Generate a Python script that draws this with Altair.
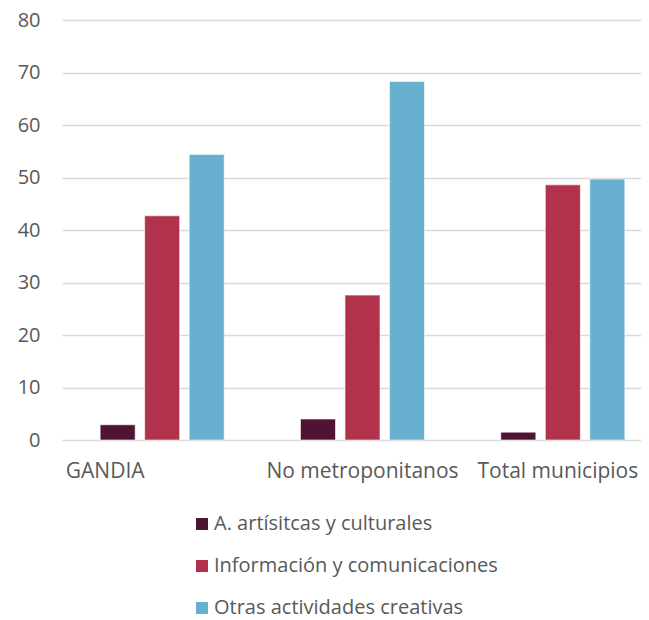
import altair as alt
import pandas as pd

categories = ["GANDIA", "No metroponitanos", "Total municipios"]
series = ["A. artísitcas y culturales", "Información y comunicaciones", "Otras actividades creativas"]
values_artisticas = [2.9, 4.0, 1.5]
values_informacion = [42.7, 27.6, 48.6]
values_otras = [54.4, 68.3, 49.7]
colors = ["#4f1434", "#b2314b", "#67b0cf"]
y_ticks = [0, 10, 20, 30, 40, 50, 60, 70, 80]

rows = []
for vals, s in zip([values_artisticas, values_informacion, values_otras], series):
    for c, v in zip(categories, vals):
        rows.append({"categoria": c, "serie": s, "valor": v})
df = pd.DataFrame(rows)

FONT = "Open Sans"
TXT = "#595959"

chart = alt.Chart(df).mark_bar(stroke="white", strokeWidth=0.6).encode(
    x=alt.X("categoria:N", sort=categories, title=None,
            scale=alt.Scale(paddingInner=0, paddingOuter=0),
            axis=alt.Axis(labelAngle=0, domain=False, ticks=False, grid=False,
                          labelFont=FONT, labelFontSize=21, labelColor=TXT,
                          labelPadding=20, labelLimit=400,
                          labelOffset={"expr": "datum.value === 'GANDIA' ? -57 : (datum.value === 'Total municipios' ? -5 : 0)"})),
    xOffset=alt.XOffset("serie:N", sort=series,
                        scale=alt.Scale(paddingInner=0.213, paddingOuter=0.857)),
    y=alt.Y("valor:Q", title=None,
            scale=alt.Scale(domain=[0, 80], nice=False),
            axis=alt.Axis(values=y_ticks, domain=False, ticks=False,
                          gridColor="#d9d9d9", gridWidth=1.3,
                          labelFont=FONT, labelFontSize=20, labelColor=TXT,
                          labelPadding=22)),
    color=alt.Color("serie:N", sort=series,
                    scale=alt.Scale(domain=series, range=colors),
                    legend=alt.Legend(title=None, orient="none", direction="vertical",
                                      legendX=130, legendY=494,
                                      symbolType="square", symbolSize=144,
                                      symbolStrokeWidth=0,
                                      labelFont=FONT, labelFontSize=20, labelColor=TXT,
                                      labelOffset=2, rowPadding=22, labelLimit=400)),
).properties(
    width=601, height=420,
    background="white",
    autosize=alt.AutoSizeParams(type="none"),
    padding={"left": 54, "top": 12, "right": -22, "bottom": 180},
).configure_view(strokeWidth=0)

chart.save("out.html", embed_options={"renderer": "svg", "actions": False})
